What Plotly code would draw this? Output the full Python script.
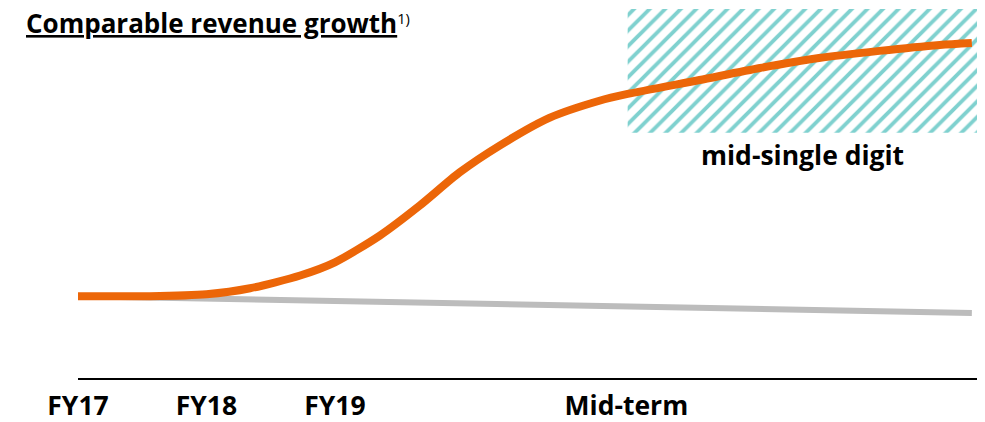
import plotly.graph_objects as go

# Period positions on the x axis (FY17 = 0, one unit per year)
tick_labels = ["FY17", "FY18", "FY19", "Mid-term"]
tick_pos = [0, 1, 2, 4.27]

# Comparable revenue growth curve (conceptual index, 0 = FY17 level)
growth_x = [0.0, 0.56, 1.0, 1.34, 1.73, 2.0, 2.35, 2.66, 2.97, 3.28, 3.67, 4.06,
            4.28, 4.84, 5.31, 5.77, 6.24, 6.71, 6.96]
growth_y = [0.0, 0.0, 0.05, 0.2, 0.52, 0.85, 1.52, 2.27, 3.1, 3.77, 4.47, 4.9,
            5.07, 5.42, 5.72, 5.97, 6.15, 6.3, 6.35]

# Baseline (grey) trend
base_x = [-0.02, 6.96]
base_y = [0.0, -0.42]

# Target band "mid-single digit"
band_x = [4.28, 7.0]
band_y = [4.1, 7.2]
band_label = "mid-single digit"

title_text = "Comparable revenue growth"
footnote = "1)"

FONT = "Open Sans"

fig = go.Figure()

fig.add_trace(go.Scatter(
    x=[band_x[0], band_x[1], band_x[1], band_x[0], band_x[0]],
    y=[band_y[0], band_y[0], band_y[1], band_y[1], band_y[0]],
    mode="lines", line=dict(width=0), fill="toself",
    fillcolor="rgba(0,0,0,0)",
    fillpattern=dict(shape="/", fgcolor="#7fd1cf", bgcolor="white",
                     size=11, solidity=0.35, fillmode="replace"),
    hoverinfo="skip", showlegend=False,
))

fig.add_trace(go.Scatter(
    x=base_x, y=base_y, mode="lines",
    line=dict(color="#bcbcbc", width=6), showlegend=False,
))

fig.add_trace(go.Scatter(
    x=growth_x, y=growth_y, mode="lines",
    line=dict(color="#ec6608", width=8, shape="spline", smoothing=0.7),
    showlegend=False,
))

fig.add_annotation(
    x=(band_x[0] + band_x[1]) / 2, y=band_y[0], xref="x", yref="y",
    text="<b>" + band_label + "</b>", showarrow=False, yanchor="top", yshift=-2,
    font=dict(family=FONT, size=26.5, color="black"),
)

fig.add_annotation(
    x=-0.06, y=1.0, xref="paper", yref="paper", xanchor="left", yanchor="top",
    text="<b><u>" + title_text + "</u></b><span style='font-size:21px'><sup>"
         + footnote + "</sup></span>",
    showarrow=False, font=dict(family=FONT, size=26, color="black"),
    yshift=2,
)

fig.update_layout(
    width=985, height=422,
    margin=dict(l=78, r=8, t=5, b=44, autoexpand=False),
    paper_bgcolor="white", plot_bgcolor="white",
    xaxis=dict(range=[0, 7.0], tickvals=tick_pos,
               ticktext=["<b>" + t + "</b>" for t in tick_labels],
               showgrid=False, zeroline=False, showline=True,
               linecolor="black", linewidth=2, ticks="",
               automargin=False, ticklabelstandoff=3,
               tickfont=dict(family=FONT, size=26.5, color="black")),
    yaxis=dict(range=[-2.05, 7.3], visible=False, showgrid=False),
)

fig.write_html("out.html")
